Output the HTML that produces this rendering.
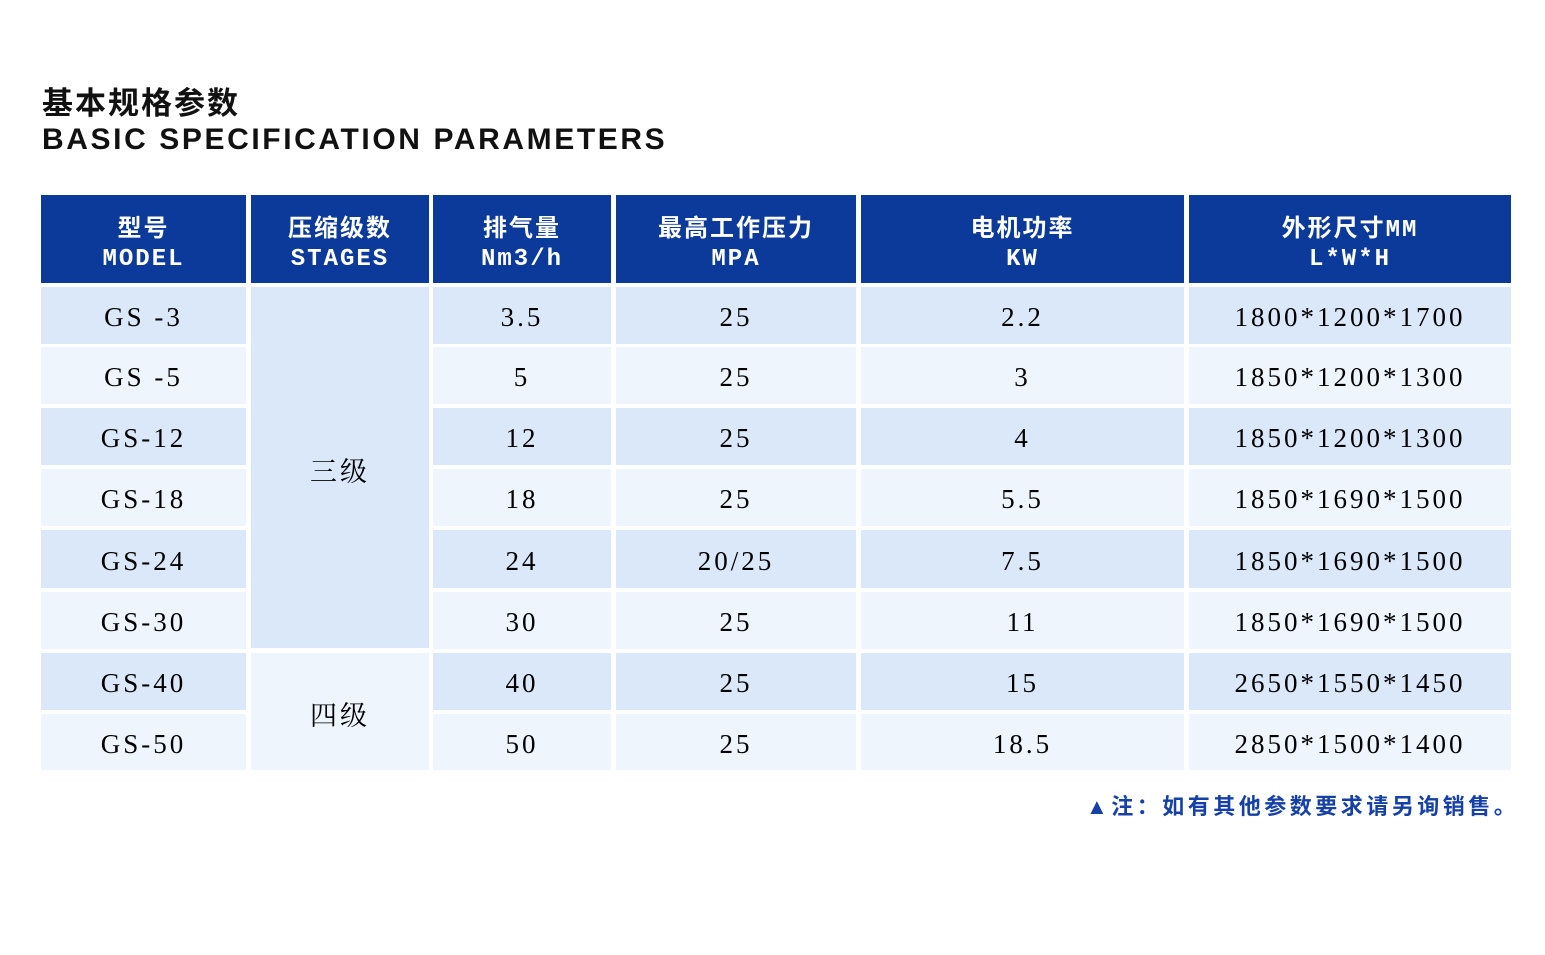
<!DOCTYPE html>
<html><head><meta charset="utf-8"><style>
body{margin:0;width:1545px;height:955px;background:#fff;position:relative;overflow:hidden;font-family:"Liberation Serif","Noto Serif CJK SC",serif}
.t1{position:absolute;left:42px;top:78px;font:bold 31px "Liberation Sans","Noto Sans CJK SC",sans-serif;color:#111;letter-spacing:2px}
.t2{position:absolute;left:42px;top:123px;font:bold 30px "Liberation Sans",sans-serif;color:#111;letter-spacing:2.6px}
.c{position:absolute;display:flex;align-items:center;justify-content:center;text-align:center}
.h{background:#0b3a9b;color:#fff;font:bold 24px/29px "Liberation Mono","Noto Sans CJK SC",monospace;top:195px;height:88px;flex-direction:column;letter-spacing:2px;box-sizing:border-box;padding-top:12px}
.d{font-size:27px;color:#000;letter-spacing:3px;padding-top:4px;box-sizing:border-box}
.a{background:#dbe8fa}.b{background:#eef5fd}
.c0{left:41px;width:205px}.c1{left:251px;width:178px}.c2{left:433px;width:178px}.c3{left:616px;width:240px}.c4{left:861px;width:323px}.c5{left:1189px;width:322px}
.note{position:absolute;left:1086px;top:789px;font:bold 22px "Liberation Sans","Noto Sans CJK SC",sans-serif;color:#1540a8;letter-spacing:3.5px}
</style></head><body>
<div class="t1">基本规格参数</div>
<div class="t2">BASIC SPECIFICATION PARAMETERS</div>
<div class="c h c0"><span>型号</span><span>MODEL</span></div>
<div class="c h c1"><span>压缩级数</span><span>STAGES</span></div>
<div class="c h c2"><span>排气量</span><span>Nm3/h</span></div>
<div class="c h c3"><span>最高工作压力</span><span>MPA</span></div>
<div class="c h c4"><span>电机功率</span><span>KW</span></div>
<div class="c h c5"><span>外形尺寸MM</span><span>L*W*H</span></div>

<div class="c d a c1" style="top:287px;height:361px">三级</div>
<div class="c d b c1" style="top:653px;height:117px">四级</div>

<div class="c d a c0" style="top:287px;height:57px">GS -3</div><div class="c d a c2" style="top:287px;height:57px">3.5</div><div class="c d a c3" style="top:287px;height:57px">25</div><div class="c d a c4" style="top:287px;height:57px">2.2</div><div class="c d a c5" style="top:287px;height:57px">1800*1200*1700</div>
<div class="c d b c0" style="top:347px;height:57px">GS -5</div><div class="c d b c2" style="top:347px;height:57px">5</div><div class="c d b c3" style="top:347px;height:57px">25</div><div class="c d b c4" style="top:347px;height:57px">3</div><div class="c d b c5" style="top:347px;height:57px">1850*1200*1300</div>
<div class="c d a c0" style="top:408px;height:57px">GS-12</div><div class="c d a c2" style="top:408px;height:57px">12</div><div class="c d a c3" style="top:408px;height:57px">25</div><div class="c d a c4" style="top:408px;height:57px">4</div><div class="c d a c5" style="top:408px;height:57px">1850*1200*1300</div>
<div class="c d b c0" style="top:469px;height:57px">GS-18</div><div class="c d b c2" style="top:469px;height:57px">18</div><div class="c d b c3" style="top:469px;height:57px">25</div><div class="c d b c4" style="top:469px;height:57px">5.5</div><div class="c d b c5" style="top:469px;height:57px">1850*1690*1500</div>
<div class="c d a c0" style="top:530px;height:58px">GS-24</div><div class="c d a c2" style="top:530px;height:58px">24</div><div class="c d a c3" style="top:530px;height:58px">20/25</div><div class="c d a c4" style="top:530px;height:58px">7.5</div><div class="c d a c5" style="top:530px;height:58px">1850*1690*1500</div>
<div class="c d b c0" style="top:592px;height:57px">GS-30</div><div class="c d b c2" style="top:592px;height:57px">30</div><div class="c d b c3" style="top:592px;height:57px">25</div><div class="c d b c4" style="top:592px;height:57px">11</div><div class="c d b c5" style="top:592px;height:57px">1850*1690*1500</div>
<div class="c d a c0" style="top:653px;height:57px">GS-40</div><div class="c d a c2" style="top:653px;height:57px">40</div><div class="c d a c3" style="top:653px;height:57px">25</div><div class="c d a c4" style="top:653px;height:57px">15</div><div class="c d a c5" style="top:653px;height:57px">2650*1550*1450</div>
<div class="c d b c0" style="top:714px;height:56px">GS-50</div><div class="c d b c2" style="top:714px;height:56px">50</div><div class="c d b c3" style="top:714px;height:56px">25</div><div class="c d b c4" style="top:714px;height:56px">18.5</div><div class="c d b c5" style="top:714px;height:56px">2850*1500*1400</div>

<div class="note">▲注：如有其他参数要求请另询销售。</div>
</body></html>
